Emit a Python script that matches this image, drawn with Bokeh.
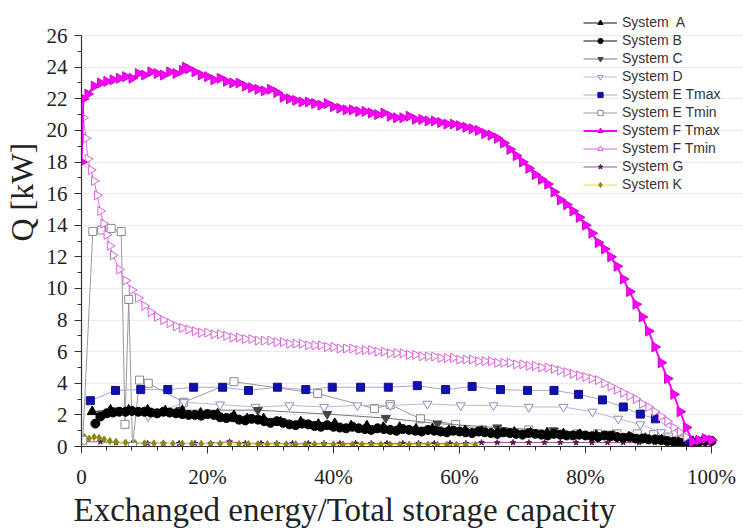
import numpy as np
from bokeh.plotting import figure
from bokeh.models import FixedTicker, Legend, LegendItem, Range1d, Title
from bokeh.embed import file_html
from bokeh.resources import INLINE

# ---------------- data (x in % of total storage capacity, Q in kW) ----------------
sys_a = [(1.7, 2.2), (4.6, 2.3), (7.5, 2.3), (10.5, 2.3), (13.3, 2.25), (16.0, 2.25), (18.9, 2.1),
         (21.6, 2.05), (24.2, 1.95), (26.3, 1.75), (28.9, 1.75), (31.6, 1.55), (34.8, 1.55), (37.6, 1.4),
         (40.2, 1.45), (42.8, 1.3), (45.3, 1.3), (47.9, 1.2), (50.5, 1.2), (53.1, 1.1), (55.7, 1.1),
         (58.3, 1.0), (60.9, 1.0), (63.5, 0.95), (66.1, 0.9), (68.7, 0.9), (71.3, 0.85), (73.9, 0.85),
         (76.5, 0.8), (79.1, 0.75), (81.7, 0.7), (84.3, 0.65), (86.9, 0.6), (89.5, 0.5), (92.1, 0.4),
         (94.7, 0.3)]

sys_b = [(2.2, 1.45), (3, 1.9), (4, 2.1), (5, 2.15), (6, 2.2), (7, 2.2), (8, 2.25), (9, 2.2), (10, 2.2),
         (11, 2.15), (12, 2.1), (13, 2.2), (14, 2.15), (15, 2.1), (16, 2.05), (17, 2.0), (18, 2.0),
         (19, 1.95), (20, 2.05), (21, 2.0), (22, 1.85), (23, 1.8), (24, 1.85), (25, 1.7), (26, 1.65),
         (27, 1.75), (28, 1.7), (29, 1.6), (30, 1.5), (31, 1.6), (32, 1.5), (33, 1.4), (34, 1.35),
         (35, 1.45), (36, 1.4), (37, 1.3), (38, 1.25), (39, 1.35), (40, 1.25), (41, 1.2), (42, 1.15),
         (43, 1.25), (44, 1.15), (45, 1.1), (46, 1.05), (47, 1.15), (48, 1.1), (49, 1.05), (50, 1.0),
         (51, 1.1), (52, 1.05), (53, 1.0), (54, 0.95), (55, 1.05), (56, 1.0), (57, 0.95), (58, 0.9),
         (59, 1.0), (60, 0.95), (61, 0.9), (62, 0.85), (63, 0.95), (64, 0.9), (65, 0.85), (66, 0.8),
         (67, 0.9), (68, 0.85), (69, 0.8), (70, 0.75), (71, 0.85), (72, 0.8), (73, 0.75), (74, 0.7),
         (75, 0.8), (76, 0.75), (77, 0.7), (78, 0.7), (79, 0.75), (80, 0.7), (81, 0.65), (82, 0.6),
         (83, 0.7), (84, 0.65), (85, 0.6), (86, 0.55), (87, 0.6), (88, 0.5), (89, 0.5), (90, 0.45),
         (91, 0.45), (92, 0.4), (93, 0.35), (94, 0.3), (95, 0.25), (96, 0.2), (97, 0.2), (98, 0.3),
         (99, 0.35), (100, 0.35)]

sys_c = [(15.7, 2.3), (28.0, 2.3), (39.0, 2.05), (48.3, 1.8), (56.5, 1.45), (66.0, 1.2), (75.0, 1.0),
         (84.0, 0.8), (92.0, 0.5)]

sys_d = [(5.0, 2.3), (10.6, 1.9), (16.3, 2.8), (22.0, 2.65), (27.6, 2.5), (33.0, 2.6), (38.5, 2.5),
         (43.8, 2.6), (49.0, 2.6), (54.9, 2.7), (60.2, 2.6), (65.4, 2.6), (71.0, 2.5), (76.5, 2.5),
         (81.1, 2.2), (85.2, 1.75), (88.7, 1.4), (92.0, 0.9), (95.0, 0.5)]

sys_e_tmax = [(1.4, 2.9), (5.4, 3.55), (9.4, 3.6), (13.7, 3.6), (17.8, 3.75), (22.4, 3.75), (26.5, 3.55),
              (31.1, 3.75), (35.6, 3.6), (39.8, 3.75), (44.3, 3.75), (48.7, 3.75), (53.3, 3.85),
              (57.8, 3.6), (62.0, 3.8), (66.5, 3.6), (70.8, 3.55), (75.0, 3.55), (78.9, 3.3), (82.7, 2.95),
              (86.0, 2.5), (88.7, 2.05), (91.1, 1.75), (96.5, 0.4)]

sys_e_tmin = [(0.2, 0.4), (1.8, 13.6), (3.2, 13.7), (4.7, 13.8), (6.3, 13.6), (6.9, 1.4), (7.5, 9.3),
              (8.1, 0.0), (9.2, 4.2), (10.6, 4.0), (16.2, 2.8), (24.2, 4.1), (37.5, 3.35), (46.5, 2.4),
              (49.0, 2.65), (53.8, 1.75), (59.4, 1.4), (63.7, 1.05), (67.0, 0.95), (71.0, 1.05),
              (74.8, 0.95), (78.7, 0.8), (81.9, 0.8), (85.0, 0.8), (88.2, 0.8), (90.8, 0.75), (93.2, 0.6),
              (96.0, 0.3)]

sys_f_tmax = [(0, 18.0), (0.3, 22.0), (1, 22.3), (2, 22.8), (3, 23.0), (4, 23.1), (5, 23.2), (6, 23.3),
              (7, 23.4), (8, 23.3), (9, 23.6), (10, 23.5), (11, 23.7), (12, 23.6), (13, 23.5), (14, 23.7),
              (15, 23.6), (16, 23.8), (16.5, 24.0), (17, 23.9), (18, 23.7), (19, 23.5), (20, 23.4),
              (21, 23.2), (22, 23.3), (23, 23.1), (24, 23.0), (25, 23.0), (26, 22.8), (27, 22.7),
              (28, 22.6), (29, 22.5), (30, 22.6), (31, 22.4), (32, 22.1), (33, 22.0), (34, 21.9),
              (35, 21.8), (36, 21.8), (37, 21.7), (38, 21.6), (39, 21.7), (40, 21.5), (41, 21.4),
              (42, 21.3), (43, 21.3), (44, 21.2), (45, 21.2), (46, 21.1), (47, 21.0), (48, 21.1),
              (49, 20.9), (50, 20.8), (51, 20.8), (52, 20.9), (53, 20.7), (54, 20.7), (55, 20.6),
              (56, 20.6), (57, 20.5), (58, 20.4), (59, 20.4), (60, 20.3), (61, 20.2), (62, 20.1),
              (63, 20.0), (64, 19.8), (65, 19.7), (66, 19.5), (67, 19.2), (68, 18.8), (69, 18.4),
              (70, 18.0), (71, 17.6), (72, 17.2), (73, 16.9), (74, 16.6), (75, 16.1), (76, 15.6),
              (77, 15.3), (78, 14.9), (79, 14.5), (80, 14.0), (81, 13.5), (82, 12.9), (83, 12.5),
              (84, 12.0), (85, 11.4), (86, 10.6), (87, 9.8), (88, 9.0), (89, 8.2), (90, 7.3), (91, 6.3),
              (92, 5.3), (93, 4.3), (94, 3.3), (95, 2.2), (96, 1.2), (97, 0.3), (98, 0.4), (99, 0.5),
              (100, 0.4)]

sys_f_tmin = [(0.3, 20.8), (0.7, 19.5), (1, 18.2), (1.5, 17.5), (2, 16.8), (2.5, 15.9), (3, 14.9),
              (3.5, 14.1), (4, 13.4), (4.5, 12.7), (5, 12.1), (6, 11.2), (7, 10.5), (8, 9.9), (9, 9.4),
              (10, 8.9), (11, 8.5), (12, 8.2), (13, 8.0), (14, 7.8), (15, 7.6), (16, 7.5), (17, 7.4),
              (18, 7.3), (19, 7.2), (20, 7.2), (21, 7.1), (22, 7.1), (23, 7.0), (24, 6.9), (25, 6.9),
              (26, 6.8), (27, 6.8), (28, 6.7), (29, 6.7), (30, 6.7), (31, 6.6), (32, 6.6), (33, 6.5),
              (34, 6.5), (35, 6.5), (36, 6.4), (37, 6.4), (38, 6.4), (39, 6.3), (40, 6.3), (41, 6.2),
              (42, 6.2), (43, 6.2), (44, 6.1), (45, 6.1), (46, 6.1), (47, 6.0), (48, 6.0), (49, 5.9),
              (50, 5.9), (51, 5.9), (52, 5.8), (53, 5.8), (54, 5.7), (55, 5.7), (56, 5.7), (57, 5.6),
              (58, 5.6), (59, 5.6), (60, 5.5), (61, 5.5), (62, 5.5), (63, 5.4), (64, 5.4), (65, 5.4),
              (66, 5.3), (67, 5.3), (68, 5.3), (69, 5.2), (70, 5.2), (71, 5.1), (72, 5.1), (73, 5.0),
              (74, 5.0), (75, 4.9), (76, 4.8), (77, 4.7), (78, 4.6), (79, 4.5), (80, 4.4), (81, 4.3),
              (82, 4.2), (83, 4.0), (84, 3.8), (85, 3.6), (86, 3.4), (87, 3.2), (88, 3.0), (89, 2.7),
              (90, 2.5), (91, 2.2), (92, 1.9), (93, 1.6), (94, 1.2), (95, 0.9), (96, 0.6), (97, 0.3)]

sys_g = [(0.5, 0.3), (3, 0.3), (5.5, 0.25), (8, 0.2), (10.5, 0.2), (13, 0.2), (15.5, 0.2), (18, 0.2),
         (20.5, 0.2), (23.5, 0.3), (26, 0.2), (28.5, 0.2), (31, 0.2), (33.5, 0.2), (36, 0.2), (38.5, 0.2),
         (41, 0.2), (43.5, 0.2), (46, 0.2), (48.5, 0.2), (51, 0.2), (53.5, 0.2), (56, 0.2), (58.5, 0.2),
         (61, 0.2), (63.5, 0.25), (66, 0.25), (68.5, 0.25), (71, 0.25), (73.5, 0.25), (76, 0.25),
         (78.5, 0.25), (81, 0.25), (83.5, 0.25), (86, 0.25), (88.5, 0.25), (91, 0.25), (93.5, 0.3),
         (96, 0.3), (97.5, 0.45), (98.5, 0.5), (99.5, 0.45)]

sys_k = [(0.5, 0.6), (1.2, 0.5), (2.0, 0.6), (2.8, 0.55), (3.6, 0.45), (4.5, 0.35), (5.5, 0.3), (7.0, 0.25),
         (8.5, 0.22), (10.0, 0.2), (11.5, 0.2), (13.0, 0.2), (14.5, 0.18), (16.0, 0.18), (17.5, 0.18),
         (19.0, 0.17), (20.5, 0.17), (22.0, 0.17), (23.5, 0.16), (25.0, 0.16), (26.5, 0.16), (28.0, 0.15),
         (29.5, 0.15), (31.0, 0.15), (32.5, 0.15), (34.0, 0.15), (35.5, 0.14), (37.0, 0.14), (38.5, 0.14),
         (40.0, 0.14), (41.5, 0.13), (43.0, 0.13), (44.5, 0.13), (46.0, 0.13), (47.5, 0.13), (49.0, 0.12),
         (50.5, 0.12), (52.0, 0.12), (53.5, 0.12), (55.0, 0.12), (56.5, 0.11), (58.0, 0.11), (59.5, 0.11),
         (61.0, 0.1), (62.5, 0.1)]

x_ticks = [0, 20, 40, 60, 80, 100]
x_tick_labels = ["0", "20%", "40%", "60%", "80%", "100%"]
y_ticks = [0, 2, 4, 6, 8, 10, 12, 14, 16, 18, 20, 22, 24, 26]
x_title = "Exchanged energy/Total storage capacity"
y_title = "Q [kW]"

# ---------------- figure ----------------
# frame spans the whole upper/right area so the legend (drawn inside the frame) is not clipped;
# the axes are bounded to 0..100 % and 0..26 kW.
p = figure(width=743, height=528, output_backend="svg", toolbar_location=None,
           x_range=Range1d(0, 105.08), y_range=Range1d(0, 28.22),
           min_border_left=81, min_border_right=0, min_border_top=0, min_border_bottom=10)
p.outline_line_color = None
p.background_fill_color = "white"
p.border_fill_color = "white"
p.xgrid.grid_line_color = None
p.ygrid.grid_line_color = "#ebebeb"
p.ygrid.grid_line_width = 1
p.ygrid.bounds = (0, 100)

p.xaxis.ticker = FixedTicker(ticks=x_ticks, minor_ticks=[v for v in range(0, 101, 4)])
p.yaxis.ticker = FixedTicker(ticks=y_ticks, minor_ticks=list(range(0, 27)))
p.xaxis.major_label_overrides = {t: l for t, l in zip(x_ticks, x_tick_labels)}
p.xaxis.bounds = (0, 100)
p.yaxis.bounds = (0, 26)

SERIF = "Liberation Serif"
for ax in (p.xaxis[0], p.yaxis[0]):
    ax.axis_line_color = "#333333"
    ax.axis_line_width = 1.2
    ax.major_tick_line_color = "#333333"
    ax.minor_tick_line_color = "#333333"
    ax.major_tick_out = 7
    ax.major_tick_in = 0
    ax.minor_tick_out = 4
    ax.minor_tick_in = 0
    ax.major_label_text_font = SERIF
    ax.major_label_text_font_size = "21px"
    ax.major_label_text_color = "#222222"
p.xaxis.major_label_standoff = 11
p.yaxis.major_label_standoff = 7

p.add_layout(Title(text=x_title, align="left", offset=-8, standoff=-1, vertical_align="middle",
                   text_font=SERIF, text_font_size="33px", text_font_style="normal",
                   text_color="#222222"), "below")
p.add_layout(Title(text=y_title, align="left", offset=205, standoff=4, vertical_align="top",
                   text_font=SERIF, text_font_size="32px", text_font_style="normal",
                   text_color="#222222"), "left")


def series(data, marker, size, line_color, fill_color, mline_color, lw=1.0, angle=0.0, mlw=1.0):
    xs = [d[0] for d in data]
    ys = [d[1] for d in data]
    r1 = p.line(xs, ys, line_color=line_color, line_width=lw)
    r2 = p.scatter(xs, ys, marker=marker, size=size, fill_color=fill_color,
                   line_color=mline_color, line_width=mlw, angle=angle)
    return [r1, r2]


RIGHT = -np.pi / 2
r_g = series(sys_g, "star", 6, "#a0509a", "#5a1a5a", "#5a1a5a")
r_k = series(sys_k, "diamond", 7, "#e8e040", "#8a8a10", "#8a8a10")
r_etmin = series(sys_e_tmin, "square", 8, "#9a9a9a", "white", "#8a8a8a", lw=1.0)
r_d = series(sys_d, "inverted_triangle", 9, "#b8b8d8", "white", "#8f8fb8")
r_c = series(sys_c, "inverted_triangle", 9, "#777777", "#444444", "#444444")
r_b = series(sys_b, "circle", 9, "#111111", "black", "black")
r_a = series(sys_a, "triangle", 10, "#111111", "black", "black")
r_etmax = series(sys_e_tmax, "square", 8, "#a8a8cc", "#1010b0", "#10108a")
r_ftmin = series(sys_f_tmin, "triangle", 9, "#dd66dd", "white", "#d860d8", angle=RIGHT)
r_ftmax = series(sys_f_tmax, "triangle", 10, "#ff00ff", "#ff00ff", "#d000d0", lw=2.0, angle=RIGHT)

items = [
    LegendItem(label="System  A", renderers=r_a),
    LegendItem(label="System B", renderers=r_b),
    LegendItem(label="System C", renderers=r_c),
    LegendItem(label="System D", renderers=r_d),
    LegendItem(label="System E Tmax", renderers=r_etmax),
    LegendItem(label="System E Tmin", renderers=r_etmin),
    LegendItem(label="System F Tmax", renderers=r_ftmax),
    LegendItem(label="System F Tmin", renderers=r_ftmin),
    LegendItem(label="System G", renderers=r_g),
    LegendItem(label="System K", renderers=r_k),
]
legend = Legend(items=items, location=(502, 254), orientation="vertical",
                label_text_font="Liberation Sans", label_text_font_size="14px",
                label_text_color="#333333", glyph_width=34, glyph_height=13, label_height=13,
                spacing=2, padding=0, margin=0, label_standoff=5,
                border_line_color=None, background_fill_alpha=0)
p.add_layout(legend, "center")

open("out.html", "w").write(file_html(p, INLINE))
